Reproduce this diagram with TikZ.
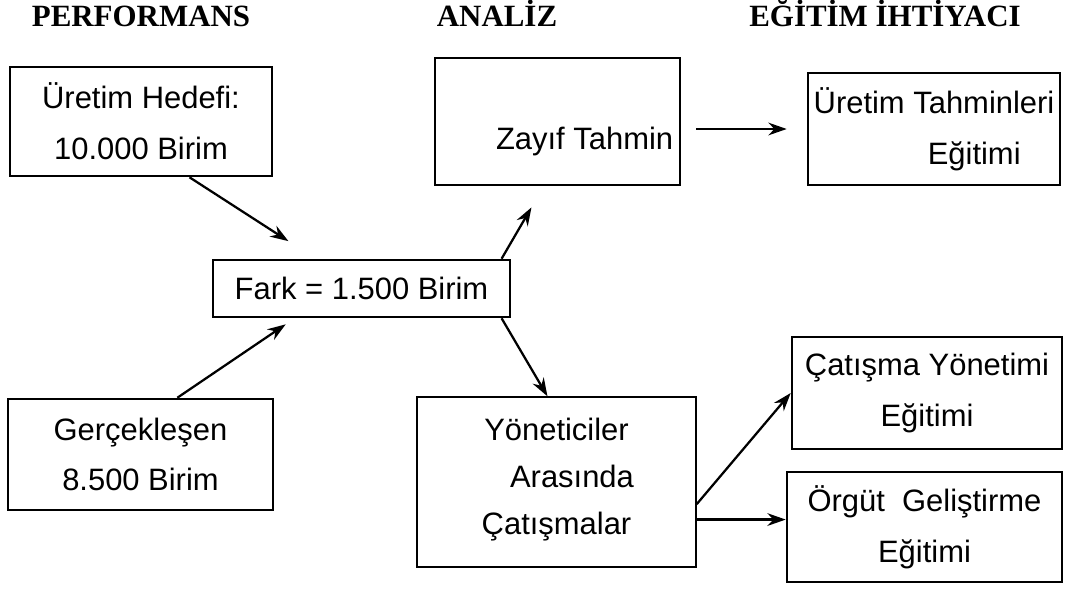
\documentclass[tikz,border=0pt]{standalone}
\usepackage{fontspec}
\setmainfont{Liberation Serif}
\setsansfont{Liberation Sans}
\usetikzlibrary{arrows.meta}

\begin{document}
\begin{tikzpicture}[
    x=0.025cm, y=-0.025cm,
    every node/.style={font=\sffamily\fontsize{22}{36}\selectfont},
    box/.style={rectangle, draw, line width=1.8pt, align=center, inner sep=2pt},
    lightbox/.style={box, line width=0.9pt},
    header/.style={font=\rmfamily\bfseries\fontsize{22}{26}\selectfont, anchor=base},
    arrow/.style={-{Stealth[length=13pt, width=9pt]}, line width=1.6pt}
]
\useasboundingbox (0,0) rectangle (1069,591);

% Column titles
\node[header] (title-perf) at (141,27) {PERFORMANS};
\node[header] (title-analiz) at (497,27) {ANALİZ};
\node[header] (title-egitim) at (885,27) {EĞİTİM İHTİYACI};

% Performance (left)
\node[box, minimum width=6.55cm, minimum height=2.725cm] (hedef) at (141,121.5) {Üretim Hedefi:\\10.000 Birim};
\node[box, minimum width=6.625cm, minimum height=2.775cm] (gercek) at (140.5,454.5) {Gerçekleşen\\8.500 Birim};
\node[box, minimum width=7.425cm, minimum height=1.425cm] (fark) at (361.5,288.5) {Fark = 1.500 Birim};

% Analysis (middle)
\node[box, minimum width=6.125cm, minimum height=3.175cm] (zayif) at (557.5,121.5) {\raisebox{-20pt}[0pt][0pt]{\hspace*{1.75em}Zayıf Tahmin}};
\node[lightbox, minimum width=6.975cm, minimum height=4.25cm] (yonetici) at (556.5,482) {\raisebox{8pt}{\shortstack{Yöneticiler\\[14pt]\hspace*{1em}Arasında\\[14pt]Çatışmalar}}};

% Training need (right)
\node[box, minimum width=6.3cm, minimum height=2.8cm] (tahmin) at (934,129) {Üretim Tahminleri\\\hspace*{2.6em}Eğitimi};
\node[box, minimum width=6.75cm, minimum height=2.8cm] (catisma) at (927,393) {Çatışma Yönetimi\\Eğitimi};
\node[box, minimum width=6.875cm, minimum height=2.75cm] (orgut) at (924.5,527) {Örgüt\ \ Geliştirme\\Eğitimi};

% Performance gap
\draw[arrow, shorten >=0.81cm] (hedef.-49) -- (fark.147);
\draw[arrow, shorten >=0.27cm] (gercek.57) -- (fark.204);

% Analysis of the gap
\draw[arrow, shorten >=0.61cm] (fark.12) -- (zayif.258);
\draw[arrow] (fark.-12) -- (yonetici.96);

% Training needs
\draw[arrow, shorten <=0.375cm, shorten >=0.5cm] (zayif.east |- tahmin.west) -- (tahmin.west);
\draw[arrow] (yonetici.-9) -- (catisma.west);
\draw[arrow] (yonetici.-15) -- (yonetici.-15 -| orgut.west);

\end{tikzpicture}
\end{document}
